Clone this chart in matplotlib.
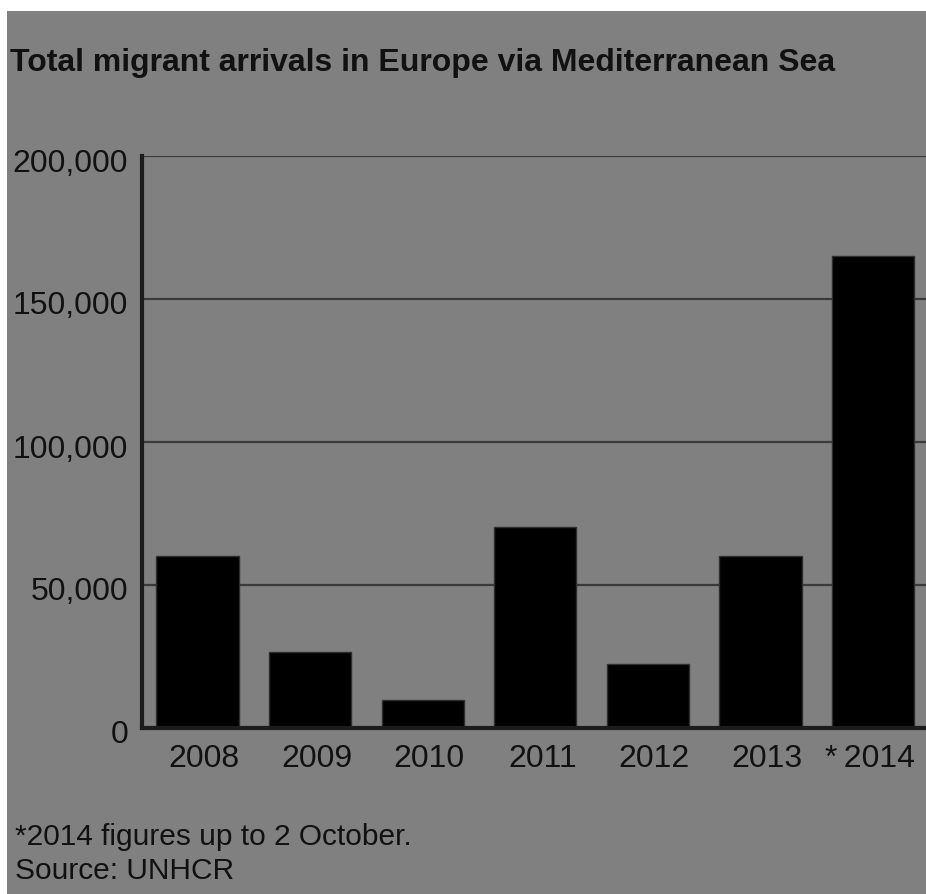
import matplotlib
matplotlib.use("Agg")
import matplotlib.pyplot as plt
import matplotlib.patches as mpatches
import matplotlib.transforms as mtransforms
from matplotlib.ticker import FuncFormatter

years = ["2008", "2009", "2010", "2011", "2012", "2013", "*\u20092014"]
arrivals = [60000, 26500, 9700, 70400, 22500, 60000, 165000]
yticks = [0, 50000, 100000, 150000, 200000]

W, H = 926, 895
fig = plt.figure(figsize=(W / 100, H / 100), dpi=100)
fig.patch.set_facecolor("white")
bg = "#808080"
fig.patches.append(mpatches.Rectangle((7 / W, 0), 1 - 7 / W, 1 - 12 / H,
                                      transform=fig.transFigure,
                                      facecolor=bg, edgecolor="none", zorder=-10))

plt.rcParams["font.family"] = ["Liberation Sans", "DejaVu Sans"]

left_px, right_px = 142, 926
top_px, bot_px = 157, 729
ax = fig.add_axes([left_px / W, (H - bot_px) / H,
                   (right_px - left_px) / W, (bot_px - top_px) / H])
ax.set_facecolor("none")

bar_w = 0.73
x = list(range(len(years)))
ax.bar(x, arrivals, width=bar_w, color="black", edgecolor="#2e2e2e",
       linewidth=1.0, zorder=3)

ax.set_xlim(-0.493, 6.47)
ax.set_ylim(0, 200000)
ax.set_yticks(yticks)
ax.yaxis.set_major_formatter(FuncFormatter(lambda v, p: f"{int(v):,}"))
ax.set_xticks(x)
ax.set_xticklabels(years)

ax.grid(axis="y", color="#3a3a3a", linewidth=1.6, zorder=1)
ax.grid(axis="x", visible=False)
for side in ["top", "right"]:
    ax.spines[side].set_visible(False)
for side in ["left", "bottom"]:
    ax.spines[side].set_color("#1c1c1c")
    ax.spines[side].set_linewidth(3)
    ax.spines[side].set_zorder(4)

ax.tick_params(axis="both", length=0, colors="#111111", labelsize=23)
ax.tick_params(axis="y", pad=10)
ax.tick_params(axis="x", pad=11)

# year labels sit flush with the right edge of their bar
fig.canvas.draw()
unit_px = ax.transData.transform((1, 0))[0] - ax.transData.transform((0, 0))[0]
shift = mtransforms.ScaledTranslation((bar_w / 2 * unit_px + 1) / 100, 0,
                                      fig.dpi_scale_trans)
for lbl in ax.get_xticklabels():
    lbl.set_horizontalalignment("right")
    lbl.set_transform(lbl.get_transform() + shift)
yshift = mtransforms.ScaledTranslation(0, -3 / 100, fig.dpi_scale_trans)
for lbl in ax.get_yticklabels():
    lbl.set_transform(lbl.get_transform() + yshift)

fig.text(10 / W, 1 - 63 / H, "Total migrant arrivals in Europe via Mediterranean Sea",
         fontsize=23, fontweight="bold", color="#111111", va="center", ha="left")

fig.text(15 / W, 1 - 845 / H, "*2014 figures up to 2 October.",
         fontsize=21.5, color="#111111", va="baseline", ha="left")
fig.text(15 / W, 1 - 879 / H, "Source: UNHCR",
         fontsize=21.5, color="#111111", va="baseline", ha="left")

fig.savefig("out.png", dpi=100, facecolor=fig.get_facecolor())
